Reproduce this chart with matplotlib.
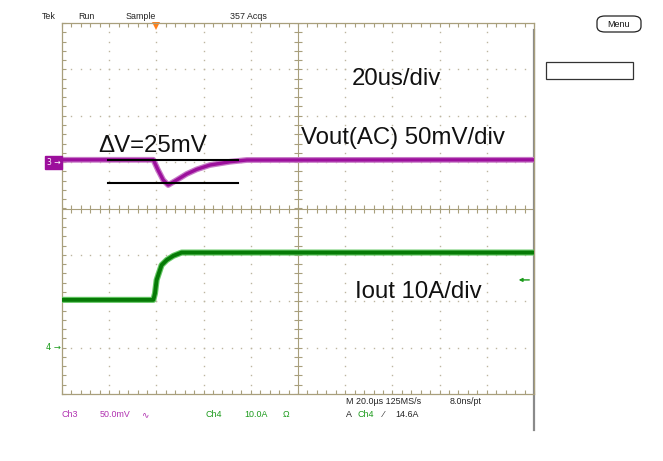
import matplotlib
matplotlib.use("Agg")
import matplotlib.pyplot as plt
import numpy as np
from matplotlib.transforms import blended_transform_factory
from matplotlib.patches import FancyBboxPatch, Rectangle

# ---------------- data ----------------
# Vout (AC coupled), mV, 50 mV/div, time in microseconds (20 us/div, 10 div)
vout_t = [0, 38.7, 40.6, 42.9, 45.0, 48.6, 52.8, 57.1, 62.7, 71.2, 78.3, 200]
vout_mv = [2.5, 2.5, -8.0, -19.3, -24.7, -19.3, -12.8, -7.8, -3.1, 0.4, 2.3, 2.5]
# Iout, A, 10 A/div
iout_t = [0, 38.7, 39.4, 40.1, 42.2, 44.4, 47.2, 50.7, 200]
iout_a = [10.3, 10.3, 11.7, 14.6, 17.8, 18.9, 19.8, 20.5, 20.5]
# delta-V marker lines (mV levels, time extent)
dv_levels = [2.3, -22.2]
dv_span = [19.6, 74.7]
trig_level_a = 14.6
trig_time_us = 40.0

time_per_div = 20.0   # us
v_per_div = 50.0      # mV
i_per_div = 10.0      # A
ch3_offset_div = 1    # Ch3 ground at +1 div
ch4_offset_div = -3   # Ch4 ground at -3 div

header_texts = ["Tek", "Run", "Sample", "357 Acqs"]
annot_texts = ["20us/div", "Vout(AC) 50mV/div", "Iout 10A/div", "\u0394V=25mV"]

# ---------------- figure ----------------
W, H = 663, 461
fig = plt.figure(figsize=(W / 100, H / 100), dpi=100)
fig.patch.set_facecolor("white")
L, R, T, B = 62, 534, 23, 394
ax = fig.add_axes([L / W, 1 - B / H, (R - L) / W, (B - T) / H])
ax.set_xlim(0, 10 * time_per_div)
ax.set_ylim(-4, 4)
ax.set_facecolor("white")

frame_col = "#a89f7c"
dot_col = "#bdb6a0"
for s in ax.spines.values():
    s.set_color(frame_col)
    s.set_linewidth(0.9)

# edge ticks every 1/5 div
ax.set_xticks(np.arange(0, 200.01, time_per_div / 5))
ax.set_yticks(np.arange(-4, 4.01, 0.2))
ax.tick_params(axis="both", which="both", direction="in", length=3.2, width=0.8,
               color=frame_col, labelleft=False, labelbottom=False,
               top=True, right=True)

# dotted graticule
for k in range(1, 10):
    if k == 5:
        continue
    x = k * time_per_div
    ys = np.arange(-4, 4.01, 0.2)
    ax.plot(np.full_like(ys, x), ys, ls="none", marker="s", ms=1.0, mew=0, color=dot_col)
for k in range(-3, 4):
    if k == 0:
        continue
    xs = np.arange(0, 200.01, time_per_div / 5)
    ax.plot(xs, np.full_like(xs, k), ls="none", marker="s", ms=1.0, mew=0, color=dot_col)

# center cross lines with ticks
ax.axvline(100, color=frame_col, lw=0.8)
ax.axhline(0, color=frame_col, lw=0.8)
xs = np.arange(0, 200.01, time_per_div / 5)
ax.plot(xs, np.zeros_like(xs), ls="none", marker="|", ms=6, mew=0.8, color=frame_col)
ys = np.arange(-4, 4.01, 0.2)
ax.plot(np.full_like(ys, 100), ys, ls="none", marker="_", ms=6, mew=0.8, color=frame_col)

# right gray bar
ax.plot([1, 1], [(B - 30) / (B - T), (B - 430) / (B - T)], transform=ax.transAxes,
        color="#8a8a8a", lw=1.6, clip_on=False)

# channel axes
axv = ax.twinx()
axv.set_ylim((-4 - ch3_offset_div) * v_per_div, (4 - ch3_offset_div) * v_per_div)
axi = ax.twinx()
axi.set_ylim((-4 - ch4_offset_div) * i_per_div, (4 - ch4_offset_div) * i_per_div)
for a in (axv, axi):
    a.set_yticks([])
    for s in a.spines.values():
        s.set_visible(False)

mag = "#9c0f9c"
mag_light = "#c77ac7"
grn = "#067a06"
grn_light = "#66c866"

axv.plot(vout_t, vout_mv, color=mag_light, lw=4.2, solid_joinstyle="round")
axv.plot(vout_t, vout_mv, color=mag, lw=2.4, solid_joinstyle="round")
axi.plot(iout_t, iout_a, color=grn_light, lw=4.4, solid_joinstyle="round")
axi.plot(iout_t, iout_a, color=grn, lw=2.8, solid_joinstyle="round")

for lv in dv_levels:
    axv.plot(dv_span, [lv, lv], color="black", lw=1.5)

# channel ground markers
btv = blended_transform_factory(ax.transAxes, axv.transData)
axv.text(-0.003, 0, "3 \u2192", transform=btv, ha="right", va="center", color="white",
         fontsize=5.5, family="DejaVu Sans",
         bbox=dict(boxstyle="square,pad=0.25", fc=mag, ec=mag), clip_on=False)
bti = blended_transform_factory(ax.transAxes, axi.transData)
axi.text(-0.003, 0, "4 \u2192", transform=bti, ha="right", va="center", color="#1a9a1a",
         fontsize=6, family="DejaVu Sans", clip_on=False)

# trigger level arrow (right side)
axi.annotate("", xy=(193.5, trig_level_a), xytext=(198.0, trig_level_a),
             arrowprops=dict(arrowstyle="-|>", color="#1a9a1a", lw=1.0,
                             mutation_scale=5, shrinkA=0, shrinkB=0))
# trigger position marker (top)
ax.plot([trig_time_us], [4 - 0.07], marker="v", ms=6, color="#ff7f1a", mew=0, clip_on=False)

# ---------------- texts ----------------
def ftext(x, y, s, **kw):
    fig.text(x / W, 1 - y / H, s, **kw)

big = dict(fontsize=17.3, family="Liberation Sans", color="#111111", va="baseline")
ftext(352, 85, annot_texts[0], **big)
ftext(301, 144, annot_texts[1], **big)
ftext(355, 298, annot_texts[2], **big)
ftext(98, 152, annot_texts[3], **big)

small = dict(fontsize=6.4, family=["Liberation Sans", "DejaVu Sans"], va="baseline")
hx = [42, 78, 126, 230]
for x, s in zip(hx, header_texts):
    ftext(x, 19, s, color="#222222", **small)

ftext(62, 417, "Ch3", color="#b030b0", **small)
ftext(100, 417, "50.0mV", color="#b030b0", **small)
ftext(141, 417, "\u223f", color="#b030b0", **small)
ftext(205, 417, "Ch4", color="#1a9a1a", **small)
ftext(244, 417, "10.0A", color="#1a9a1a", **small)
ftext(283, 417, "\u03a9", color="#1a9a1a", **small)
ftext(346, 404, "M 20.0\u00b5s 125MS/s", color="#222222", **small)
ftext(450, 404, "8.0ns/pt", color="#222222", **small)
ftext(346, 417, "A", color="#222222", **small)
ftext(357, 417, "Ch4", color="#1a9a1a", **small)
ftext(383, 417, "\u2044", color="#222222", **small)
ftext(395, 417, "14.6A", color="#222222", **small)

# Menu button and empty box
mb = FancyBboxPatch(((597) / W, 1 - 32 / H), 44 / W, 16 / H,
                    boxstyle="round,pad=0,rounding_size=0.012",
                    transform=fig.transFigure, fc="white", ec="#222222", lw=0.9)
fig.patches.append(mb)
ftext(619, 27, "Menu", color="#111111", fontsize=6.4, family="Liberation Sans",
      ha="center", va="baseline")
rb = Rectangle((546 / W, 1 - 79 / H), 87 / W, 17 / H, transform=fig.transFigure,
               fc="white", ec="#333333", lw=0.9)
fig.patches.append(rb)

fig.savefig("out.png", dpi=100)
